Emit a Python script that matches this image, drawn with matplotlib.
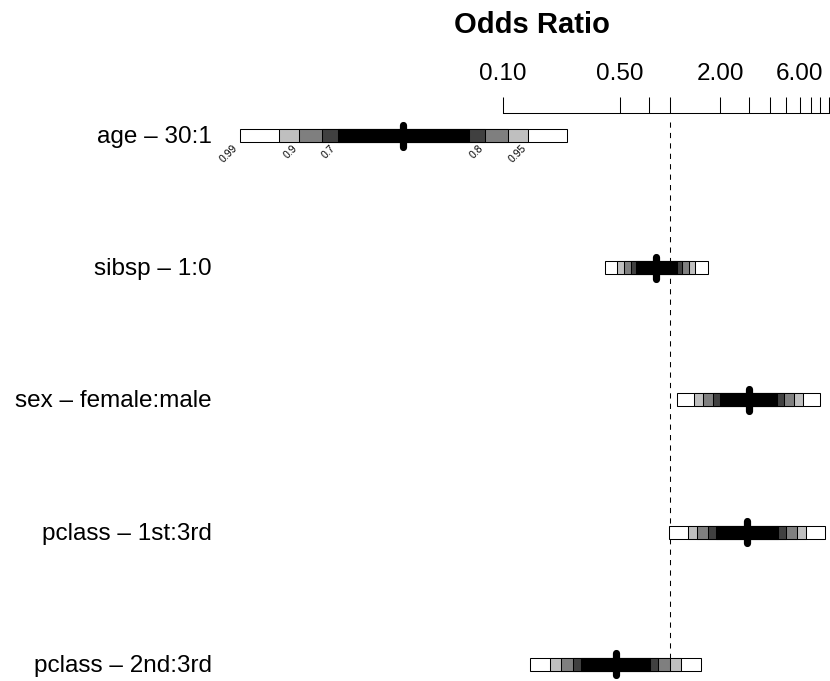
import matplotlib
matplotlib.use("Agg")
import matplotlib.pyplot as plt
import matplotlib.transforms as mtransforms
from matplotlib.patches import Rectangle
import numpy as np

plt.rcParams['font.family'] = ['Liberation Sans', 'DejaVu Sans']

# ---- data ----
row_labels = ["age \u2013 30:1", "sibsp \u2013 1:0", "sex \u2013 female:male",
              "pclass \u2013 1st:3rd", "pclass \u2013 2nd:3rd"]
log_odds_ratio = [-3.676, -0.187, 1.0864, 1.0657, -0.7495]
std_error = [0.8766, 0.2747, 0.3832, 0.4180, 0.4582]
conf_levels = [0.99, 0.95, 0.9, 0.8, 0.7]
z_values = [2.5758, 1.9600, 1.6449, 1.2816, 1.0364]
level_colors = ['#ffffff', '#bfbfbf', '#7f7f7f', '#404040', '#000000']
tick_values = [0.1, 0.5, 0.75, 1, 2, 3, 4, 5, 6, 7, 8, 9]
tick_labels = ['0.10', '0.50', '', '', '2.00', '', '', '', '6.00', '', '', '']

W, H = 830, 681
fig = plt.figure(figsize=(W / 100, H / 100), dpi=100)
ax_top_px = 113
ax = fig.add_axes([503 / W, 0, (829 - 503) / W, 1 - ax_top_px / H])
ax.set_xscale('log')
ax.set_xlim(0.1, 9)
row_px0, row_step = 135.5, 132.2
ax.set_ylim((H - row_px0) / row_step, (ax_top_px - row_px0) / row_step)

for s in ['left', 'right', 'bottom']:
    ax.spines[s].set_visible(False)
ax.spines['top'].set_linewidth(0.75)
ax.xaxis.tick_top()
ax.set_xticks(tick_values)
ax.set_xticklabels(tick_labels)
ax.xaxis.set_minor_locator(matplotlib.ticker.NullLocator())
ax.tick_params(axis='x', which='major', direction='out', length=11.5, width=0.75,
               labelsize=17.5, pad=9)
ax.set_yticks([])

# reference line at OR = 1
ax.plot([1, 1], [(122 - row_px0) / row_step, (666 - row_px0) / row_step],
        color='black', lw=0.75, ls=(0, (5, 5)), zorder=1)

bar_half = 6.5 / row_step
mark_half = 11 / row_step
for i, (lab, est, se) in enumerate(zip(row_labels, log_odds_ratio, std_error)):
    for lev, z, col in zip(conf_levels, z_values, level_colors):
        lo = np.exp(est - z * se)
        hi = np.exp(est + z * se)
        ax.add_patch(Rectangle((lo, i - bar_half), hi - lo, 2 * bar_half,
                               facecolor=col, edgecolor='black', lw=0.75,
                               clip_on=False, zorder=2))
    ax.plot([np.exp(est)] * 2, [i - mark_half, i + mark_half], color='black',
            lw=5.2, solid_capstyle='round', clip_on=False, zorder=3)
    if i == 0:
        for j, (lev, z) in enumerate(zip(conf_levels, z_values)):
            pos = np.exp(est - z * se) if j % 2 == 0 else np.exp(est + z * se)
            ax.text(pos, i + bar_half + 1.0 / row_step, f"{lev:g}", rotation=45,
                    ha='right', va='top', fontsize=7.5, clip_on=False)

trans = mtransforms.blended_transform_factory(fig.transFigure, ax.transData)
for i, lab in enumerate(row_labels):
    ax.text(212 / W, i + 1.5 / row_step, lab, transform=trans, ha='right',
            va='center', fontsize=17.5)

fig.text(532 / W, 1 - 25 / H, "Odds Ratio", ha='center', va='center',
         fontsize=21, fontweight='bold')

fig.savefig("out.png", dpi=100)
